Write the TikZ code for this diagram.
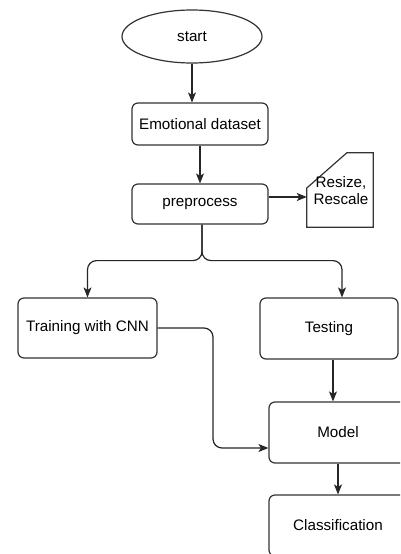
\documentclass[tikz,border=0pt]{standalone}
\usepackage{fontspec}
\setmainfont{Liberation Sans}
\usetikzlibrary{shapes.geometric,arrows.meta,calc}
\begin{document}
\begin{tikzpicture}[x=1pt,y=-1pt,
  every node/.style={font=\fontsize{15.2}{17}\selectfont, text=black, inner sep=0pt},
  box/.style={draw=black!80, line width=1.2pt, rounded corners=6pt, fill=white},
  arr/.style={draw=black!85, line width=1.2pt, -{Stealth[length=10pt,width=8pt,inset=2.5pt]}}]
\useasboundingbox (0,0) rectangle (400,554);
\clip (0,0) rectangle (400,554);
\node[ellipse, draw=black!80, line width=1.2pt, minimum width=140, minimum height=53] (start) at (192,36.5) {start};
\node[box, minimum width=136, minimum height=42] (data) at (200,124) {Emotional dataset};
\node[box, minimum width=136, minimum height=40] (pre) at (200,204) {preprocess};
\node[minimum width=66, minimum height=74] (rs) at (340,190) {};
\draw[black!80, line width=1.2pt] (rs.south west) -- ($(rs.west)+(0,-2)$) -- ($(rs.north west)+(40,0)$) -- (rs.north east) -- (rs.south east) -- cycle;
\node[align=center] (rstext) at (341,190.5) {Resize,\\Rescale};
\node[box, minimum width=139, minimum height=60] (train) at (87.5,328) {Training with CNN};
\node[box, minimum width=138, minimum height=61] (test) at (329,328.5) {Testing};
\node[box, minimum width=138, minimum height=61] (model) at (338,432.5) {Model};
\node[box, minimum width=138, minimum height=61] (cls) at (338,525.5) {Classification};
\coordinate (preout) at ($(pre.east)+(0,-7)$);
\draw[arr] (start.south) -- (start.south |- data.north);
\draw[arr] (data.south) -- (pre.north);
\draw[arr] (preout) -- (preout -| rs.west);
\draw[arr, rounded corners=9pt] ([xshift=2pt]pre.south) -- ++(0,36) -| (train.north);
\draw[arr, rounded corners=9pt] ([xshift=2pt]pre.south) -- ++(0,36) -| ([xshift=13pt]test.north);
\draw[arr] ([xshift=4pt]test.south) -- ([xshift=4pt]test.south |- model.north);
\draw[arr, rounded corners=9pt] (train.east) -- (213,328) -- (213,448) -- ([yshift=-15.5pt]model.west);
\draw[arr] (model.south) -- (cls.north);
\end{tikzpicture}
\end{document}
